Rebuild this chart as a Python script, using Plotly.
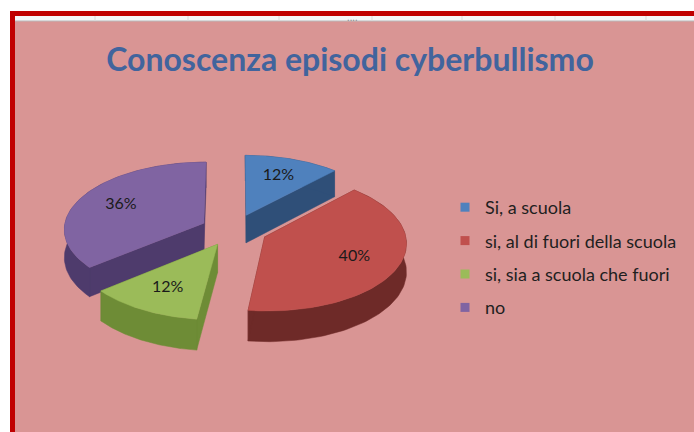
import numpy as np
import plotly.graph_objects as go

# ---- data ----
labels = ["Si, a scuola", "si, al di fuori della scuola", "si, sia a scuola che fuori", "no"]
values = [12, 40, 12, 36]
top_colors = ["#4F81BD", "#C0504D", "#9BBB59", "#8064A2"]
side_colors = ["#2F4F78", "#6E2A28", "#6E8C36", "#4E3B6C"]
title_text = "Conoscenza episodi cyberbullismo"

# ---- geometry of the 3D-looking exploded pie ----
W, H = 694, 432
CX, CY = 234, 230
RX, RY = 140, 67
DEPTH = 28
EXPLODE = 0.24
PERSP = 0.08
LABEL_R = 0.68
FONT = "Lato"


def proj(u, v, z=0.0):
    f = 1.0 / (1.0 - PERSP * v)
    return CX + RX * u * f, CY + (RY * v + DEPTH * z) * f


total = float(sum(values))
slices = []
start = 0.0
for i, val in enumerate(values):
    t1 = 2 * np.pi * start / total
    t2 = 2 * np.pi * (start + val) / total
    start += val
    mid = 0.5 * (t1 + t2)
    du, dv = EXPLODE * np.sin(mid), -EXPLODE * np.cos(mid)
    slices.append((i, t1, t2, mid, du, dv))

fig = go.Figure()

# draw back slices first
for (i, t1, t2, mid, du, dv) in sorted(slices, key=lambda s: s[5]):
    th = np.linspace(t1, t2, 90)
    ru = np.sin(th) + du
    rv = -np.cos(th) + dv
    xs, ys = [], []
    tx, ty = proj(ru, rv, 0)
    bx, by = proj(ru, rv, 1)
    xs += list(tx) + list(bx[::-1]) + [tx[0], None]
    ys += list(ty) + list(by[::-1]) + [ty[0], None]
    for t in (t1, t2):
        pu, pv = np.sin(t) + du, -np.cos(t) + dv
        a0 = proj(du, dv, 0)
        a1 = proj(du, dv, 1)
        p0 = proj(pu, pv, 0)
        p1 = proj(pu, pv, 1)
        xs += [a0[0], p0[0], p1[0], a1[0], a0[0], None]
        ys += [a0[1], p0[1], p1[1], a1[1], a0[1], None]
    fig.add_trace(go.Scatter(x=xs, y=ys, mode="lines", fill="toself",
                             fillcolor=side_colors[i],
                             line=dict(color=side_colors[i], width=0.5),
                             hoverinfo="skip", showlegend=False))
    ax, ay = proj(du, dv, 0)
    fig.add_trace(go.Scatter(x=[ax] + list(tx) + [ax], y=[ay] + list(ty) + [ay],
                             mode="lines", fill="toself",
                             fillcolor=top_colors[i],
                             line=dict(color=top_colors[i], width=0.5),
                             name=labels[i], hoverinfo="name", showlegend=False))

# percentage labels
lx, ly, lt = [], [], []
for (i, t1, t2, mid, du, dv) in slices:
    x, y = proj(LABEL_R * np.sin(mid) + du, -LABEL_R * np.cos(mid) + dv, 0)
    lx.append(x)
    ly.append(y)
    lt.append(f"{round(values[i] / total * 100)}%")
fig.add_trace(go.Scatter(x=lx, y=ly, mode="text", text=lt,
                         textfont=dict(family=FONT, size=16, color="#1a1a1a"),
                         hoverinfo="skip", showlegend=False))

# legend entries
for i, lab in enumerate(labels):
    fig.add_trace(go.Scatter(x=[None], y=[None], mode="markers", name=lab,
                             legendgroup=f"g{i}",
                             marker=dict(symbol="square", size=9, color=top_colors[i])))

# ---- frame decoration (Excel screenshot look) ----
shapes = [
    dict(type="rect", xref="x", yref="y", x0=10, y0=11, x1=W + 5, y1=H + 5,
         fillcolor="#C00000", line=dict(width=0), layer="below"),
    dict(type="rect", xref="x", yref="y", x0=15, y0=16, x1=W + 5, y1=22,
         fillcolor="#F4F6F8", line=dict(width=0), layer="below"),
    dict(type="rect", xref="x", yref="y", x0=15, y0=21, x1=W + 5, y1=H + 5,
         fillcolor="#D99594", line=dict(width=0), layer="below"),
    dict(type="line", xref="x", yref="y", x0=15, y0=21, x1=W + 5, y1=21,
         line=dict(color="#B9B9B9", width=1), layer="below"),
]
for gx in [95, 188, 279, 372, 462, 555, 646]:
    shapes.append(dict(type="line", xref="x", yref="y", x0=gx, y0=16, x1=gx, y1=21,
                       line=dict(color="#DADADA", width=1), layer="below"))

fig.update_layout(
    width=W, height=H,
    margin=dict(l=0, r=0, t=0, b=0),
    paper_bgcolor="white", plot_bgcolor="rgba(0,0,0,0)",
    xaxis=dict(range=[0, W], visible=False, fixedrange=True),
    yaxis=dict(range=[H, 0], visible=False, fixedrange=True),
    shapes=shapes,
    title=dict(text=f"<b>{title_text}</b>", x=350 / W, xanchor="center",
               y=1 - 60 / H, yanchor="middle", yref="paper",
               font=dict(family=FONT, size=32, color="#41649D")),
    legend=dict(x=(485 - 40) / W, xanchor="left", y=1 - 189 / H, yanchor="top",
                bgcolor="rgba(0,0,0,0)", tracegroupgap=7,
                font=dict(family=FONT, size=18, color="#1f1f1f")),
    annotations=[dict(text="....", x=352, y=17, xref="x", yref="y", showarrow=False,
                      font=dict(size=10, color="#8a8a8a"))],
)

fig.write_html("out.html", config={"displayModeBar": False},
               post_script="document.body.style.margin='0';"
                           "document.body.style.overflow='hidden';")
